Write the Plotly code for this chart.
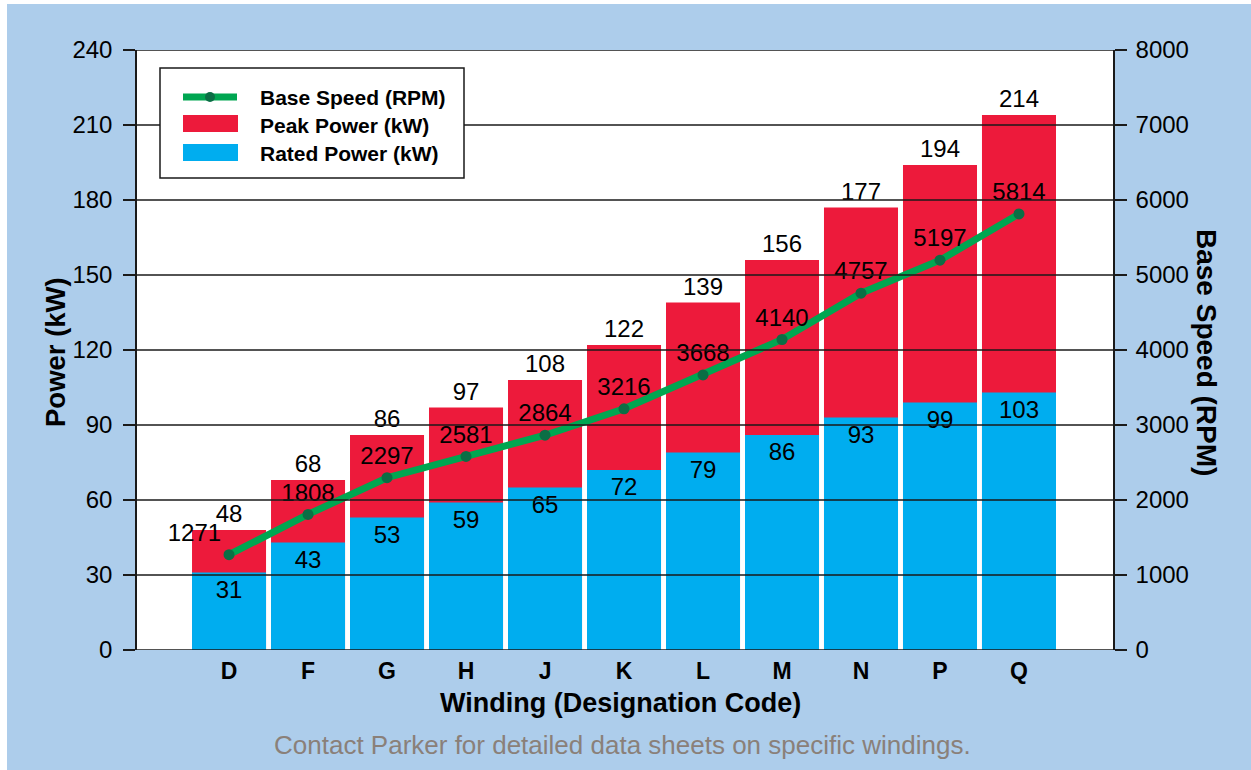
import plotly.graph_objects as go

# Winding designation codes and their ratings
windings = ["D", "F", "G", "H", "J", "K", "L", "M", "N", "P", "Q"]
peak_power_kw = [48, 68, 86, 97, 108, 122, 139, 156, 177, 194, 214]
rated_power_kw = [31, 43, 53, 59, 65, 72, 79, 86, 93, 99, 103]
base_speed_rpm = [1271, 1808, 2297, 2581, 2864, 3216, 3668, 4140, 4757, 5197, 5814]

power_ticks = list(range(0, 241, 30))
speed_ticks = list(range(0, 8001, 1000))

RED = "#ED1A3B"
BLUE = "#00ADEF"
GREEN = "#00A651"
DARK_GREEN = "#0B6E45"
BG = "#ADCDEB"
FONT = "Liberation Sans, Arial, Helvetica, sans-serif"

# plot-area geometry in pixels (used to place decorations in paper units)
W, H = 1251, 770
L, R, T, B = 137, 138, 50, 120
PW, PH = W - L - R, H - T - B


def px(x):
    return (x - L) / PW


def py(y):
    return (H - B - y) / PH


pos = list(range(len(windings)))

fig = go.Figure()

fig.add_trace(go.Bar(
    x=pos, y=peak_power_kw, width=0.937, marker=dict(color=RED, line=dict(width=0)),
    text=[str(v) for v in peak_power_kw], textposition="outside",
    outsidetextfont=dict(family=FONT, size=24, color="black"),
    cliponaxis=False, name="Peak Power (kW)",
))
fig.add_trace(go.Bar(
    x=pos, y=rated_power_kw, width=0.937, marker=dict(color=BLUE, line=dict(width=0)),
    text=[str(v) for v in rated_power_kw], textposition="inside", insidetextanchor="end",
    insidetextfont=dict(family=FONT, size=24, color="black"), textangle=0,
    name="Rated Power (kW)",
))
fig.add_trace(go.Scatter(
    x=pos, y=base_speed_rpm, yaxis="y2", mode="lines+markers+text",
    line=dict(color=GREEN, width=7),
    marker=dict(color=DARK_GREEN, size=11),
    text=[str(v) for v in base_speed_rpm],
    textposition=["top left"] + ["top center"] * (len(windings) - 1),
    textfont=dict(family=FONT, size=24, color="black"),
    cliponaxis=False, name="Base Speed (RPM)",
))

shapes = []
# left/top white edge around the panel
shapes.append(dict(type="rect", xref="paper", yref="paper", x0=px(0), x1=px(7), y0=py(H), y1=py(0),
                   fillcolor="white", line=dict(width=0), layer="above"))
shapes.append(dict(type="rect", xref="paper", yref="paper", x0=px(0), x1=px(W), y0=py(4), y1=py(0),
                   fillcolor="white", line=dict(width=0), layer="above"))
# horizontal rules drawn over the bars
for v in power_ticks:
    shapes.append(dict(type="line", xref="paper", yref="y", x0=0, x1=1, y0=v, y1=v,
                       line=dict(color="#1a1a1a", width=1.5), layer="above"))

# key box
shapes.append(dict(type="rect", xref="paper", yref="paper", x0=px(160), x1=px(464), y0=py(178), y1=py(68),
                   fillcolor="white", line=dict(color="#1a1a1a", width=1.5), layer="above"))
shapes.append(dict(type="line", xref="paper", yref="paper", x0=px(183), x1=px(237), y0=py(97), y1=py(97),
                   line=dict(color=GREEN, width=7), layer="above"))
shapes.append(dict(type="circle", xref="paper", yref="paper", x0=px(205), x1=px(215), y0=py(102), y1=py(92),
                   fillcolor=DARK_GREEN, line=dict(width=0), layer="above"))
shapes.append(dict(type="rect", xref="paper", yref="paper", x0=px(183), x1=px(238), y0=py(132), y1=py(115),
                   fillcolor=RED, line=dict(width=0), layer="above"))
shapes.append(dict(type="rect", xref="paper", yref="paper", x0=px(183), x1=px(238), y0=py(161), y1=py(144),
                   fillcolor=BLUE, line=dict(width=0), layer="above"))

annotations = []
for label, ycen in [("Base Speed (RPM)", 97), ("Peak Power (kW)", 125), ("Rated Power (kW)", 153)]:
    annotations.append(dict(text=label, xref="paper", yref="paper", x=px(258), y=py(ycen),
                            xanchor="left", yanchor="middle", showarrow=False,
                            font=dict(family=FONT, size=21, color="black", weight="bold")))

annotations.append(dict(text="Power (kW)", xref="paper", yref="paper", x=px(55), y=py(352),
                        textangle=-90, showarrow=False, xanchor="center", yanchor="middle",
                        font=dict(family=FONT, size=27.5, color="black", weight="bold")))
annotations.append(dict(text="Base Speed (RPM)", xref="paper", yref="paper", x=px(1207), y=py(352),
                        textangle=90, showarrow=False, xanchor="center", yanchor="middle",
                        font=dict(family=FONT, size=28, color="black", weight="bold")))
annotations.append(dict(text="Winding (Designation Code)", xref="paper", yref="paper", x=px(620), y=py(703),
                        showarrow=False, xanchor="center", yanchor="middle",
                        font=dict(family=FONT, size=27, color="black", weight="bold")))
annotations.append(dict(text="Contact Parker for detailed data sheets on specific windings.",
                        xref="paper", yref="paper", x=px(622), y=py(745),
                        showarrow=False, xanchor="center", yanchor="middle",
                        font=dict(family=FONT, size=26, color="#8A8079")))

fig.update_layout(
    width=W, height=H,
    margin=dict(l=L, r=R, t=T, b=B, pad=0),
    paper_bgcolor=BG, plot_bgcolor="white",
    barmode="overlay", showlegend=False,
    font=dict(family=FONT, color="black"),
    xaxis=dict(
        range=[-1.165, 11.19], tickvals=pos, ticktext=windings,
        showgrid=False, zeroline=False, showline=False, ticks="",
        tickfont=dict(family=FONT, size=23, color="black", weight="bold"),
        ticklabelstandoff=5,
    ),
    yaxis=dict(
        range=[0, 240], tickvals=power_ticks, showgrid=False, zeroline=False,
        showline=True, linecolor="#1a1a1a", linewidth=1.5,
        ticks="outside", ticklen=12, tickwidth=1.5, tickcolor="#1a1a1a",
        tickfont=dict(family=FONT, size=24, color="black"), ticklabelstandoff=6,
    ),
    yaxis2=dict(
        range=[0, 8000], tickvals=speed_ticks, overlaying="y", side="right",
        showgrid=False, zeroline=False,
        showline=True, linecolor="#1a1a1a", linewidth=1.5,
        ticks="outside", ticklen=12, tickwidth=1.5, tickcolor="#1a1a1a",
        tickfont=dict(family=FONT, size=24, color="black"), ticklabelstandoff=4,
    ),
    shapes=shapes, annotations=annotations,
)

fig.write_html("out.html")
